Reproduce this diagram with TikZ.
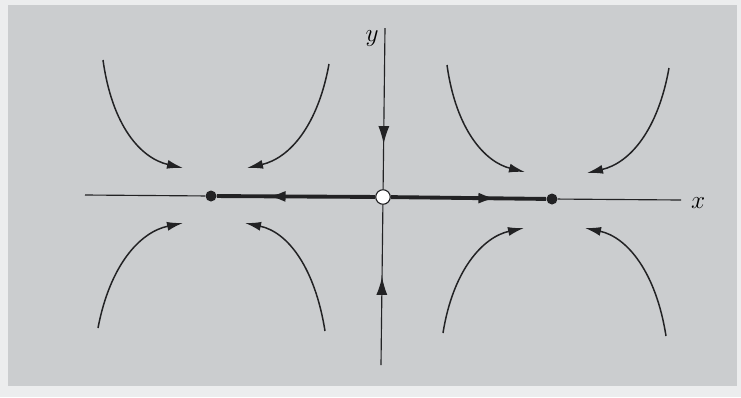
\documentclass[tikz,border=0pt]{standalone}
\usepackage{tikz}
\usetikzlibrary{arrows.meta, decorations.markings}
\definecolor{paper}{RGB}{203,205,207}
\definecolor{rim}{RGB}{236,237,238}
\definecolor{ink}{RGB}{34,34,36}

\begin{document}
\begin{tikzpicture}[x=0.02cm, y=-0.02cm,
  axis/.style={ink, line width=0.65pt},
  orbit/.style={ink, line width=0.85pt, -{Latex[length=3.2mm, width=1.8mm]}},
  heavy/.style={ink, line width=2.2pt},
  midarrow/.style={postaction={decorate}, decoration={markings,
      mark=at position #1 with {\arrow{Latex[length=3.6mm, width=2.2mm]}}}},
  sink/.style={circle, fill=ink, inner sep=0pt, minimum size=0.22cm},
  saddle/.style={circle, draw=ink, fill=white, line width=0.65pt,
                 inner sep=0pt, minimum size=0.29cm},
]
  % page and scan area
  \fill[rim] (0,0) rectangle (741,397);
  \fill[paper] (8,5) rectangle (737,386);

  % fixed points
  \node[sink] (L) at (211,196) {};
  \node[saddle] (O) at (383,197) {};
  \node[sink] (R) at (552,199) {};

  % axis ends
  \coordinate (xw) at (85,195);
  \coordinate (xe) at (681,200);
  \coordinate (yn) at (385,28);
  \coordinate (ys) at (381,365);

  % axes
  \draw[axis] (xw) -- (L);
  \draw[axis] (R) -- (xe);
  \draw[axis, midarrow=0.72] (yn) -- (O);
  \draw[axis, midarrow=0.55] (ys) -- (O);
  \node[font=\Large, anchor=west] (xl) at (685,203) {$x$};
  \node[font=\Large] (yl) at (372,39) {$y$};

  % heteroclinic connections
  \draw[heavy, midarrow=0.68] (O) -- (L);
  \draw[heavy, midarrow=0.68] (O) -- (R);

  % orbits near left sink
  \draw[orbit] (103,60) .. controls (112,125) and (140,158) .. (183,168);
  \draw[orbit] (329,64) .. controls (318,125) and (290,158) .. (247,168);
  \draw[orbit] (98,328) .. controls (110,265) and (140,232) .. (183,223);
  \draw[orbit] (325,331) .. controls (315,268) and (288,232) .. (245,223);

  % orbits near right sink
  \draw[orbit] (447,65) .. controls (456,130) and (485,162) .. (525,172);
  \draw[orbit] (669,68) .. controls (658,130) and (630,163) .. (587,173);
  \draw[orbit] (443,333) .. controls (453,270) and (483,237) .. (524,228);
  \draw[orbit] (666,336) .. controls (656,272) and (627,237) .. (585,228);
\end{tikzpicture}
\end{document}
